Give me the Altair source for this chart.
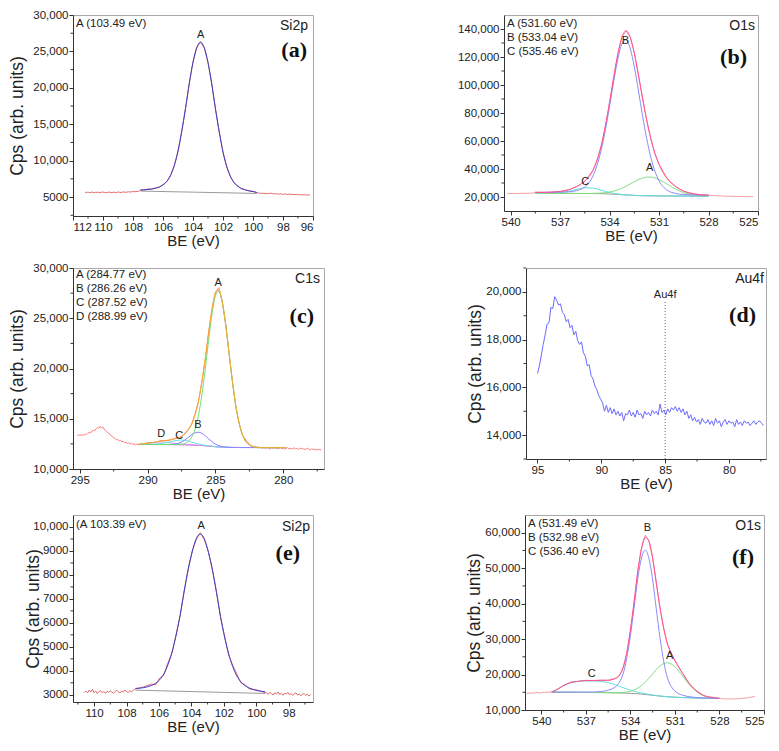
import altair as alt
import pandas as pd

FONT = "Liberation Sans"
SERIF = "Liberation Serif"
INK = "#222222"
AXC = "#333333"

# ---------------- (a) Si2p ----------------
a_raw_left = [5660, 5630, 5680, 5620, 5650, 5690, 5610, 5660, 5640, 5670,
              5620, 5660, 5690, 5630, 5600, 5650, 5680, 5640, 5610, 5670,
              5650, 5620, 5690, 5660, 5630, 5670, 5710, 5650, 5680, 5730,
              5690, 5720, 5760, 5730, 5770, 5750, 5800]
a_raw_peak_x = [107.5, 107.25, 107.0, 106.75, 106.5, 106.25, 106.0, 105.75, 105.5, 105.25,
                105.0, 104.75, 104.5, 104.25, 104.0, 103.75, 103.5, 103.25, 103.0, 102.75,
                102.5, 102.25, 102.0, 101.75, 101.5, 101.25, 101.0, 100.75, 100.5, 100.25,
                100.0, 99.75]
a_raw_peak = [5990, 5960, 6100, 6080, 6260, 6350, 6720, 7100, 8010, 9280,
              11350, 13990, 17200, 20560, 23560, 25480, 26330, 25470, 23520, 20500,
              17110, 13890, 11220, 9130, 7840, 6920, 6510, 6110, 6010, 5830,
              5790, 5600]
a_raw_right = [5560, 5520, 5490, 5540, 5470, 5510, 5450, 5500, 5530, 5460,
               5420, 5480, 5440, 5390, 5450, 5410, 5370, 5430, 5400, 5350,
               5390, 5420, 5340, 5370, 5330, 5380, 5300, 5350, 5320, 5280,
               5340, 5290, 5260, 5310, 5270]
a_fit_x = [107.5, 107.0, 106.5, 106.25, 106.0, 105.75, 105.5, 105.25, 105.0, 104.75,
           104.5, 104.25, 104.0, 103.75, 103.5, 103.25, 103.0, 102.75, 102.5, 102.25,
           102.0, 101.75, 101.5, 101.25, 101.0, 100.75, 100.5, 100.0, 99.75]
a_fit = [5954, 6046, 6212, 6387, 6664, 7149, 7942, 9332, 11279, 14049,
         17129, 20621, 23494, 25544, 26255, 25524, 23453, 20559, 17046, 13946,
         11155, 9187, 7776, 6963, 6457, 6159, 5964, 5757, 5634]
a_bl_x = [107.5, 99.75]
a_bl = [5820, 5500]
a_peak_names = ["A"]
a_peak_x = [103.49]
a_peak_y = [27200]

# ---------------- (b) O1s ----------------
b_raw_left = [22350, 22480, 22400, 22550, 22420, 22500, 22600, 22480, 22560, 22650,
              22580, 22700, 22640, 22750, 22700, 22820, 22780]
b_x = [538.5, 538, 537.5, 537, 536.5, 536, 535.5, 535, 534.75, 534.5,
       534.25, 534, 533.75, 533.5, 533.25, 533, 532.75, 532.5, 532.25, 532,
       531.75, 531.5, 531.25, 531, 530.5, 530, 529.5, 529, 528.5, 528]
b_raw_peak = [23400, 23250, 23500, 23900, 25150, 27350, 31300, 39200, 46600, 56850,
              70800, 87300, 105400, 121900, 134300, 138600, 134100, 122900, 107100, 90800,
              75000, 61800, 51100, 43400, 33000, 27600, 24100, 22500, 21600, 21300]
b_raw_right = [21150, 21000, 20900, 20950, 20800, 20700, 20750, 20600, 20650, 20500,
               20550, 20450, 20500, 20400, 20450, 20350, 20400, 20300, 20380, 20280,
               20350, 20250, 20320, 20200, 20300, 20350]
b_bl = [22800, 22750, 22700, 22650, 22600, 22550, 22500, 22450, 22400, 22350,
        22250, 22150, 22000, 21850, 21650, 21450, 21300, 21150, 21050, 20950,
        20900, 20850, 20800, 20780, 20750, 20720, 20700, 20680, 20660, 20650]
b_A = [22800, 22750, 22700, 22650, 22600, 22555, 22535, 22597, 22681, 22846,
       23110, 23557, 24200, 25120, 26270, 27681, 29300, 30919, 32413, 33533,
       34180, 34196, 33570, 32425, 29098, 25651, 23085, 21631, 20968, 20730]
b_B = [23300, 23305, 23366, 23505, 23710, 24550, 27160, 35215, 42935, 53874,
       68093, 84865, 102475, 118420, 129431, 132450, 126195, 113058, 95864, 78115,
       61859, 48378, 38449, 31658, 24746, 22607, 21755, 21501, 21326, 21205]
b_C = [22800, 22764, 22796, 23091, 23965, 25414, 26570, 26364, 25713, 24899,
       24023, 23271, 22642, 22186, 21808, 21517, 21326, 21150, 21050, 20950,
       20900, 20850, 20800, 20780, 20750, 20720, 20700, 20680, 20660, 20650]
b_env = [23300, 23319, 23462, 23946, 25075, 27420, 31265, 39276, 46529, 56919,
         70726, 87393, 105317, 122026, 134209, 138748, 134195, 122827, 107227, 90698,
         75139, 61724, 51219, 43303, 33094, 27538, 24140, 22452, 21634, 21285]
b_peak_names = ["A", "B", "C"]
b_peak_x = [531.57, 533.04, 535.48]
b_peak_y = [40500, 131300, 30700]

# ---------------- (c) C1s ----------------
c_raw_left = [13300, 13420, 13350, 13380,
              13400, 13350, 13480, 13420, 13560, 13650, 13600, 13780, 13850, 13800,
              14000, 14150, 14050, 14250, 14100, 14180, 13950, 13850, 13700, 13550,
              13500, 13300, 13250, 13100, 13050, 12900, 12950, 12800, 12850, 12700,
              12750, 12600, 12680, 12550, 12620, 12500, 12560, 12450, 12520, 12400,
              12480, 12430]
c_x = [290.6, 290, 289.5, 289, 288.5, 288, 287.5, 287, 286.75, 286.5,
       286.25, 286, 285.75, 285.5, 285.25, 285, 284.75, 284.5, 284.25, 284,
       283.75, 283.5, 283.25, 283, 282.5, 282, 281.5, 281, 280.5, 280, 279.8]
c_raw_peak = [12420, 12600, 12640, 12830, 12820, 13050, 13200, 13950, 14450, 15500,
              16720, 18700, 20950, 23650, 25900, 27600, 28050, 26600, 24450, 21500,
              18750, 16200, 14550, 13300, 12450]
c_raw_right = [12350, 12300, 12220, 12250, 12150, 12200, 12100, 12180, 12050, 12150,
               12120, 12050, 12170, 12080, 12000, 12130, 12060, 12150, 12040, 12110,
               11980, 12080, 12140, 12020, 12100, 11990, 12060, 12130, 12010, 12080,
               11970, 12050, 12100, 11990, 12060, 11950, 12030, 12090, 11960, 12020,
               11940, 12010, 12070, 11950, 11900, 12000, 11930, 11980, 11880, 11950,
               11900, 11960, 11870]
c_bl = [12450, 12450, 12445, 12440, 12430, 12420, 12410, 12400, 12385, 12370,
        12355, 12340, 12310, 12280, 12250, 12220, 12195, 12170, 12160, 12150,
        12145, 12140, 12140, 12135, 12135, 12135, 12130, 12130, 12130, 12130, 12130]
c_A = [12450, 12450, 12445, 12440, 12430, 12425, 12462, 12753, 13179, 13991,
       15353, 17373, 19968, 22851, 25481, 27240, 27665, 26616, 24396, 21551,
       18696, 16280, 14513, 13369, 12384, 12169, 12130, 12130, 12130, 12130, 12130]
c_B = [12450, 12450, 12445, 12440, 12438, 12479, 12681, 13143, 13403, 13596,
       13655, 13553, 13307, 13001, 12709, 12477, 12322, 12225, 12181, 12157,
       12145, 12140, 12140, 12135, 12135, 12135, 12130, 12130, 12130, 12130, 12130]
c_C = [12450, 12454, 12467, 12526, 12654, 12817, 12885, 12785, 12684, 12581,
       12490, 12418, 12351, 12300, 12259, 12223, 12195, 12170, 12160, 12150,
       12145, 12140, 12140, 12135, 12135, 12135, 12130, 12130, 12130, 12130, 12130]
c_D = [12483, 12563, 12649, 12690, 12637, 12536, 12454, 12411, 12387, 12370,
       12355, 12340, 12310, 12280, 12250, 12220, 12195, 12170, 12160, 12150,
       12145, 12140, 12140, 12135, 12135, 12135, 12130, 12130, 12130, 12130, 12130]
c_env = [12483, 12567, 12671, 12778, 12869, 12997, 13252, 13892, 14499, 15428,
         16788, 18664, 21006, 23592, 25949, 27500, 27792, 26671, 24417, 21558,
         18696, 16280, 14513, 13369, 12384, 12169, 12130, 12130, 12130, 12130, 12130]
c_peak_names = ["A", "B", "C", "D"]
c_peak_x = [284.8, 286.29, 287.68, 289.0]
c_peak_y = [28540, 14350, 13280, 13510]

# ---------------- (d) Au4f ----------------
d_raw = [16580, 16900, 17350, 17800, 18200, 18650, 18700, 19350, 19300, 19800,
         19650, 19450, 19500, 19150, 19050, 18750, 18850, 18500, 18600, 18200,
         18350, 17950, 17800, 17900, 17450, 17300, 16900, 16950, 16500, 16350,
         16050, 15900, 15650, 15500, 15350, 15000, 15250, 14950, 15150, 14900,
         15100, 14850, 15000, 14800, 14950, 14600, 14900, 14850, 15050, 14800,
         14950, 14750, 15050, 14850, 14900, 14700, 15000, 14850, 14950, 14800,
         15050, 14900, 15000, 14850, 15300, 14950, 15050, 14850, 15100, 14950,
         15150, 15050, 15200, 15000, 15150, 14950, 15100, 14850, 15000, 14700,
         14850, 14600, 14750, 14550, 14650, 14450, 14700, 14550, 14500, 14650,
         14450, 14600, 14400, 14700, 14500, 14600, 14350, 14550, 14650, 14450,
         14600, 14500, 14550, 14350, 14650, 14450, 14550, 14400, 14600, 14500,
         14550, 14400, 14500, 14600, 14450, 14550, 14600, 14500, 14400]
d_line_x = [85]
d_line_bottom = [13000]
d_line_top = [19620]
d_peak_names = ["Au4f"]
d_peak_x = [85]
d_peak_y = [19850]

# ---------------- (e) Si2p ----------------
e_raw_left = [3100, 3150, 3080, 3200, 3120, 3230, 3090, 3160, 3050, 3140,
              3180, 3090, 3130, 3070, 3150, 3100, 3170, 3110, 3060, 3140,
              3190, 3120, 3080, 3160, 3110, 3200, 3140, 3090, 3170, 3130,
              3180, 3230]
e_x = [107.45, 106.95, 106.45, 106.2, 105.95, 105.7, 105.45, 105.2, 104.95, 104.7,
       104.45, 104.2, 103.95, 103.7, 103.45, 103.2, 102.95, 102.7, 102.45, 102.2,
       101.95, 101.7, 101.45, 101.2, 100.95, 100.7, 100.45, 99.95, 99.45]
e_raw_peak = [3240, 3330, 3450, 3420, 3700, 3820, 4330, 4720, 5500, 6260,
              7330, 8200, 9000, 9480, 9760, 9470, 8990, 8180, 7300, 6220,
              5440, 4660, 4230, 3870, 3500, 3430, 3250, 3200, 3090]
e_raw_right = [3080, 3020, 3110, 3040, 2990, 3090, 3030, 3120, 3010, 3060,
               2980, 3070, 3030, 3100, 3000, 3050, 2970, 3040, 3080, 2990,
               3030, 2960, 3010, 3060, 2980, 3020, 2950, 3000]
e_fit = [3267, 3298, 3394, 3482, 3630, 3868, 4246, 4768, 5454, 6305,
         7288, 8238, 8957, 9513, 9705, 9504, 8940, 8212, 7253, 6262,
         5402, 4707, 4177, 3790, 3543, 3387, 3290, 3177, 3128]
e_bl_x = [107.45, 99.45]
e_bl = [3195, 3056]
e_peak_names = ["A"]
e_peak_x = [103.4]
e_peak_y = [10040]

# ---------------- (f) O1s ----------------
f_raw_left = [14650, 14780, 14700, 14850, 14760, 14900, 14820, 14950, 14880, 14800,
              14920, 15000, 14900, 15050, 14980, 15100, 15050]
f_x = [539.3, 539, 538.5, 538, 537.5, 537, 536.5, 536, 535.5, 535,
       534.75, 534.5, 534.25, 534, 533.75, 533.5, 533.25, 533, 532.75, 532.5,
       532.25, 532, 531.75, 531.5, 531.25, 531, 530.5, 530, 529.5, 529, 528.5, 528]
f_raw_peak = [15150, 15700, 16850, 17900, 18050, 18400, 18250, 18450, 18300, 19000,
              19650, 21900, 25900, 32600, 40300, 49300, 55500, 59300, 57700, 52700,
              45800, 38600, 33000, 28500, 26100, 23850, 20500, 17200, 15300, 13900,
              13600, 13250]
f_raw_right = [13150, 13250, 13100, 13200, 13050, 13150, 13100, 13200, 13080, 13180,
               13120, 13250, 13150, 13300, 13220, 13350, 13300, 13450, 13400, 13550,
               13600, 13700, 13750, 13900]
f_bl = [15030, 15020, 15000, 14990, 14980, 14960, 14940, 14910, 14880, 14840,
        14810, 14780, 14740, 14700, 14640, 14580, 14480, 14380, 14270, 14150,
        14030, 13920, 13820, 13730, 13665, 13600, 13500, 13430, 13370, 13320, 13280, 13250]
f_A = [15030, 15020, 15000, 14990, 14980, 14960, 14940, 14912, 14888, 14880,
       14894, 14950, 15063, 15283, 15626, 16169, 16890, 17849, 18989, 20231,
       21431, 22447, 23105, 23300, 22993, 22204, 19685, 16993, 15013, 13925, 13459, 13292]
f_B = [15030, 15020, 15040, 15050, 15060, 15060, 15082, 15215, 15572, 16589,
       17780, 20068, 24503, 30972, 38845, 47124, 52923, 55060, 52713, 46694,
       38235, 30192, 23583, 19018, 16635, 15349, 14192, 13735, 13512, 13380, 13310, 13265]
f_C = [15050, 15600, 16900, 17700, 18050, 18200, 18200, 18050, 17700, 17100,
       16700, 16300, 15950, 15600, 15300, 15000, 14800, 14600, 14420, 14250,
       14080, 13960, 13850, 13760, 13690, 13620, 13520, 13450, 13390, 13340, 13300, 13270]
f_env = [15050, 15600, 16940, 17760, 18130, 18300, 18342, 18355, 18407, 18889,
         19754, 21758, 26036, 32455, 40491, 49133, 55653, 58749, 57582, 52875,
         45686, 38759, 32898, 28618, 25988, 23973, 20397, 17318, 15175, 14005, 13509, 13327]
f_peak_names = ["A", "B", "C"]
f_peak_x = [531.35, 532.85, 536.6]
f_peak_y = [25300, 61400, 20100]


def steps(start, step, vals):
    return [round(start - step * i, 3) for i in range(len(vals))]


ONE = pd.DataFrame({"k": [0]})
Y_LABELS = "datum.value >= 10000 ? format(datum.value, ',') : format(datum.value, 'd')"


def build(w, h, xdom, ydom, xt, yt, xm, ym, lines, peaks, corner, corner_y, elem,
          elem_dx, elem_dy, letter, letter_dx, letter_dy, ytitle=True, extra=None,
          ytitle_pad=1, ytitle_x=None):
    xs = alt.Scale(domain=xdom, reverse=True, nice=False, zero=False)
    ys = alt.Scale(domain=ydom, nice=False, zero=False)
    xax = alt.Axis(values=xt, format="d", title="BE (eV)")
    ykw = dict(values=yt, labelExpr=Y_LABELS, titlePadding=ytitle_pad)
    ykw["title"] = "Cps (arb. units)" if ytitle else None
    if ytitle_x is not None:
        ykw["titleX"] = ytitle_x
    yax = alt.Axis(**ykw)
    layers = []
    for xv, yv, col, interp in lines:
        df = pd.DataFrame({"x": xv, "y": yv})
        layers.append(
            alt.Chart(df).mark_line(color=col, strokeWidth=1, interpolate=interp).encode(
                x=alt.X("x:Q", scale=xs, axis=xax), y=alt.Y("y:Q", scale=ys, axis=yax)))
    if extra is not None:
        layers.append(extra(xs, ys, xax, yax))
    layers.append(alt.Chart(pd.DataFrame({"v": xm})).mark_rule(color=AXC, strokeWidth=1).encode(
        x=alt.X("v:Q", scale=xs, axis=xax), y=alt.value(h), y2=alt.value(h + 2.5)))
    layers.append(alt.Chart(pd.DataFrame({"v": ym})).mark_rule(color=AXC, strokeWidth=1).encode(
        y=alt.Y("v:Q", scale=ys, axis=yax), x=alt.value(0), x2=alt.value(-2.5)))
    names, px, py = peaks
    layers.append(alt.Chart(pd.DataFrame({"x": px, "y": py, "t": names})).mark_text(
        font=FONT, fontSize=11, color=INK, baseline="middle").encode(
        x=alt.X("x:Q", scale=xs, axis=xax), y=alt.Y("y:Q", scale=ys, axis=yax), text="t:N"))
    if corner:
        layers.append(alt.Chart(ONE).mark_text(
            font=FONT, fontSize=11.5, color=INK, align="left", baseline="top", lineHeight=14).encode(
            x=alt.value(3), y=alt.value(corner_y), text=alt.value(corner)))
    layers.append(alt.Chart(ONE).mark_text(
        font=FONT, fontSize=14, color=INK, align="right", baseline="middle").encode(
        x=alt.value(w - elem_dx), y=alt.value(elem_dy), text=alt.value(elem)))
    layers.append(alt.Chart(ONE).mark_text(
        font=SERIF, fontSize=22, fontWeight="bold", color="#111111", align="right",
        baseline="middle").encode(
        x=alt.value(w - letter_dx), y=alt.value(letter_dy), text=alt.value(letter)))
    return alt.layer(*layers).properties(width=w, height=h)


RAW = "#e46c6c"
RAW_L = "#f59a9a"
FIT_B = "#3c3cc8"
GRAY = "#9a9a9a"
PINK = "#ff4f93"
BLUE = "#8a8aff"
GREEN = "#80e080"
CYAN = "#60e0e0"

pa = build(
    240, 201, [96, 112], [2400, 30000],
    list(range(96, 113, 2)), [5000, 10000, 15000, 20000, 25000, 30000],
    list(range(97, 112, 2)), [2500, 7500, 12500, 17500, 22500, 27500],
    [
        (steps(111.2, 0.1, a_raw_left) + a_raw_peak_x + steps(99.6, 0.1, a_raw_right),
         a_raw_left + a_raw_peak + a_raw_right, RAW, "linear"),
        (a_bl_x, a_bl, GRAY, "linear"),
        (a_fit_x, a_fit, FIT_B, "monotone"),
    ],
    (a_peak_names, a_peak_x, a_peak_y),
    "A (103.49 eV)", 3, "Si2p", 5, 11, "(a)", 6, 35, ytitle_pad=6)

pb = build(
    254, 196, [525, 540.4], [10000, 150000],
    [525, 528, 531, 534, 537, 540], [20000, 40000, 60000, 80000, 100000, 120000, 140000],
    [526.5, 529.5, 532.5, 535.5, 538.5], [30000, 50000, 70000, 90000, 110000, 130000],
    [
        (steps(540.2, 0.1, b_raw_left) + b_x + steps(527.8, 0.1, b_raw_right),
         b_raw_left + b_raw_peak + b_raw_right, RAW_L, "linear"),
        (b_x, b_bl, GRAY, "monotone"),
        (b_x, b_C, CYAN, "monotone"),
        (b_x, b_A, GREEN, "monotone"),
        (b_x, b_B, BLUE, "monotone"),
        (b_x, b_env, PINK, "monotone"),
    ],
    (b_peak_names, b_peak_x, b_peak_y),
    ["A (531.60 eV)", "B (533.04 eV)", "C (535.46 eV)"], 3, "O1s", 3, 11, "(b)", 11, 42,
    ytitle=False)

pc = build(
    251, 201, [277, 295.5], [10000, 30000],
    [280, 285, 290, 295], [10000, 15000, 20000, 25000, 30000],
    [277.5, 282.5, 287.5, 292.5], [12500, 17500, 22500, 27500],
    [
        (steps(295.2, 0.1, c_raw_left) + c_x[:25] + steps(282.4, 0.1, c_raw_right),
         c_raw_left + c_raw_peak + c_raw_right, "#ff7b7b", "linear"),
        (c_x, c_bl, "#c65cf0", "monotone"),
        (c_x, c_D, "#d890f0", "monotone"),
        (c_x, c_C, "#66e4e4", "monotone"),
        (c_x, c_B, "#8f80ff", "monotone"),
        (c_x, c_A, "#70e070", "monotone"),
        (c_x, c_env, "#f4ac2c", "monotone"),
    ],
    (c_peak_names, c_peak_x, c_peak_y),
    ["A (284.77 eV)", "B (286.26 eV)", "C (287.52 eV)", "D (288.99 eV)"], 1,
    "C1s", 4, 11, "(c)", 10, 48, ytitle_pad=6)


def d_extra(xs, ys, xax, yax):
    df = pd.DataFrame({"x": d_line_x, "y": d_line_bottom, "y2": d_line_top})
    return alt.Chart(df).mark_rule(color="#666666", strokeWidth=1, strokeDash=[1, 2]).encode(
        x=alt.X("x:Q", scale=xs, axis=xax), y=alt.Y("y:Q", scale=ys, axis=yax), y2="y2:Q")


pd_ = build(
    240, 191, [77.1, 95.9], [13000, 21000],
    [80, 85, 90, 95], [14000, 16000, 18000, 20000],
    [77.5, 82.5, 87.5, 92.5], [13000, 15000, 17000, 19000, 21000],
    [
        (steps(95.0, 0.15, d_raw), d_raw, "#6b6bff", "linear"),
    ],
    (d_peak_names, d_peak_x, d_peak_y),
    "", 3, "Au4f", 2, 11, "(d)", 10, 47, extra=d_extra)

pe = build(
    240, 187, [96.5, 111.3], [2700, 10500],
    list(range(98, 111, 2)), [3000, 4000, 5000, 6000, 7000, 8000, 9000, 10000],
    list(range(97, 112, 2)), [3500, 4500, 5500, 6500, 7500, 8500, 9500],
    [
        (steps(110.6, 0.1, e_raw_left) + e_x + steps(99.35, 0.1, e_raw_right),
         e_raw_left + e_raw_peak + e_raw_right, RAW, "linear"),
        (e_bl_x, e_bl, GRAY, "linear"),
        (e_x, e_fit, FIT_B, "monotone"),
    ],
    (e_peak_names, e_peak_x, e_peak_y),
    "(A 103.39 eV)", 4, "Si2p", 3, 12, "(e)", 13, 38, ytitle_x=-31)

pf = build(
    239, 195, [525, 541.1], [10000, 65000],
    [525, 528, 531, 534, 537, 540], [10000, 20000, 30000, 40000, 50000, 60000],
    [526.5, 529.5, 532.5, 535.5, 538.5], [15000, 25000, 35000, 45000, 55000],
    [
        (steps(541.0, 0.1, f_raw_left) + f_x + steps(527.9, 0.1, f_raw_right),
         f_raw_left + f_raw_peak + f_raw_right, RAW_L, "linear"),
        (f_x, f_bl, GRAY, "monotone"),
        (f_x, f_C, CYAN, "monotone"),
        (f_x, f_A, GREEN, "monotone"),
        (f_x, f_B, BLUE, "monotone"),
        (f_x, f_env, PINK, "monotone"),
    ],
    (f_peak_names, f_peak_x, f_peak_y),
    ["A (531.49 eV)", "B (532.98 eV)", "C (536.40 eV)"], 3, "O1s", 3, 11, "(f)", 10, 42)

row1 = alt.hconcat(pa, pb, spacing=142)
row2 = alt.hconcat(pc, pd_, spacing=141)
row3 = alt.hconcat(pe, pf, spacing=151)

chart = alt.vconcat(row1, row2, row3, spacing=12).properties(
    padding={"left": 0, "top": 0, "right": 0, "bottom": 0}
).configure_view(
    stroke="#a8a8a8", strokeWidth=1
).configure_axis(
    labelFont=FONT, labelFontSize=11.5, labelColor=INK,
    titleFont=FONT, titleFontWeight="normal", titleColor=INK,
    domainColor=AXC, tickColor=AXC, tickSize=4, grid=False,
    labelPadding=1, titlePadding=1,
).configure_axisX(titleFontSize=15).configure_axisY(titleFontSize=17.5)

chart.save("out.html", embed_options={"renderer": "svg", "actions": False})
